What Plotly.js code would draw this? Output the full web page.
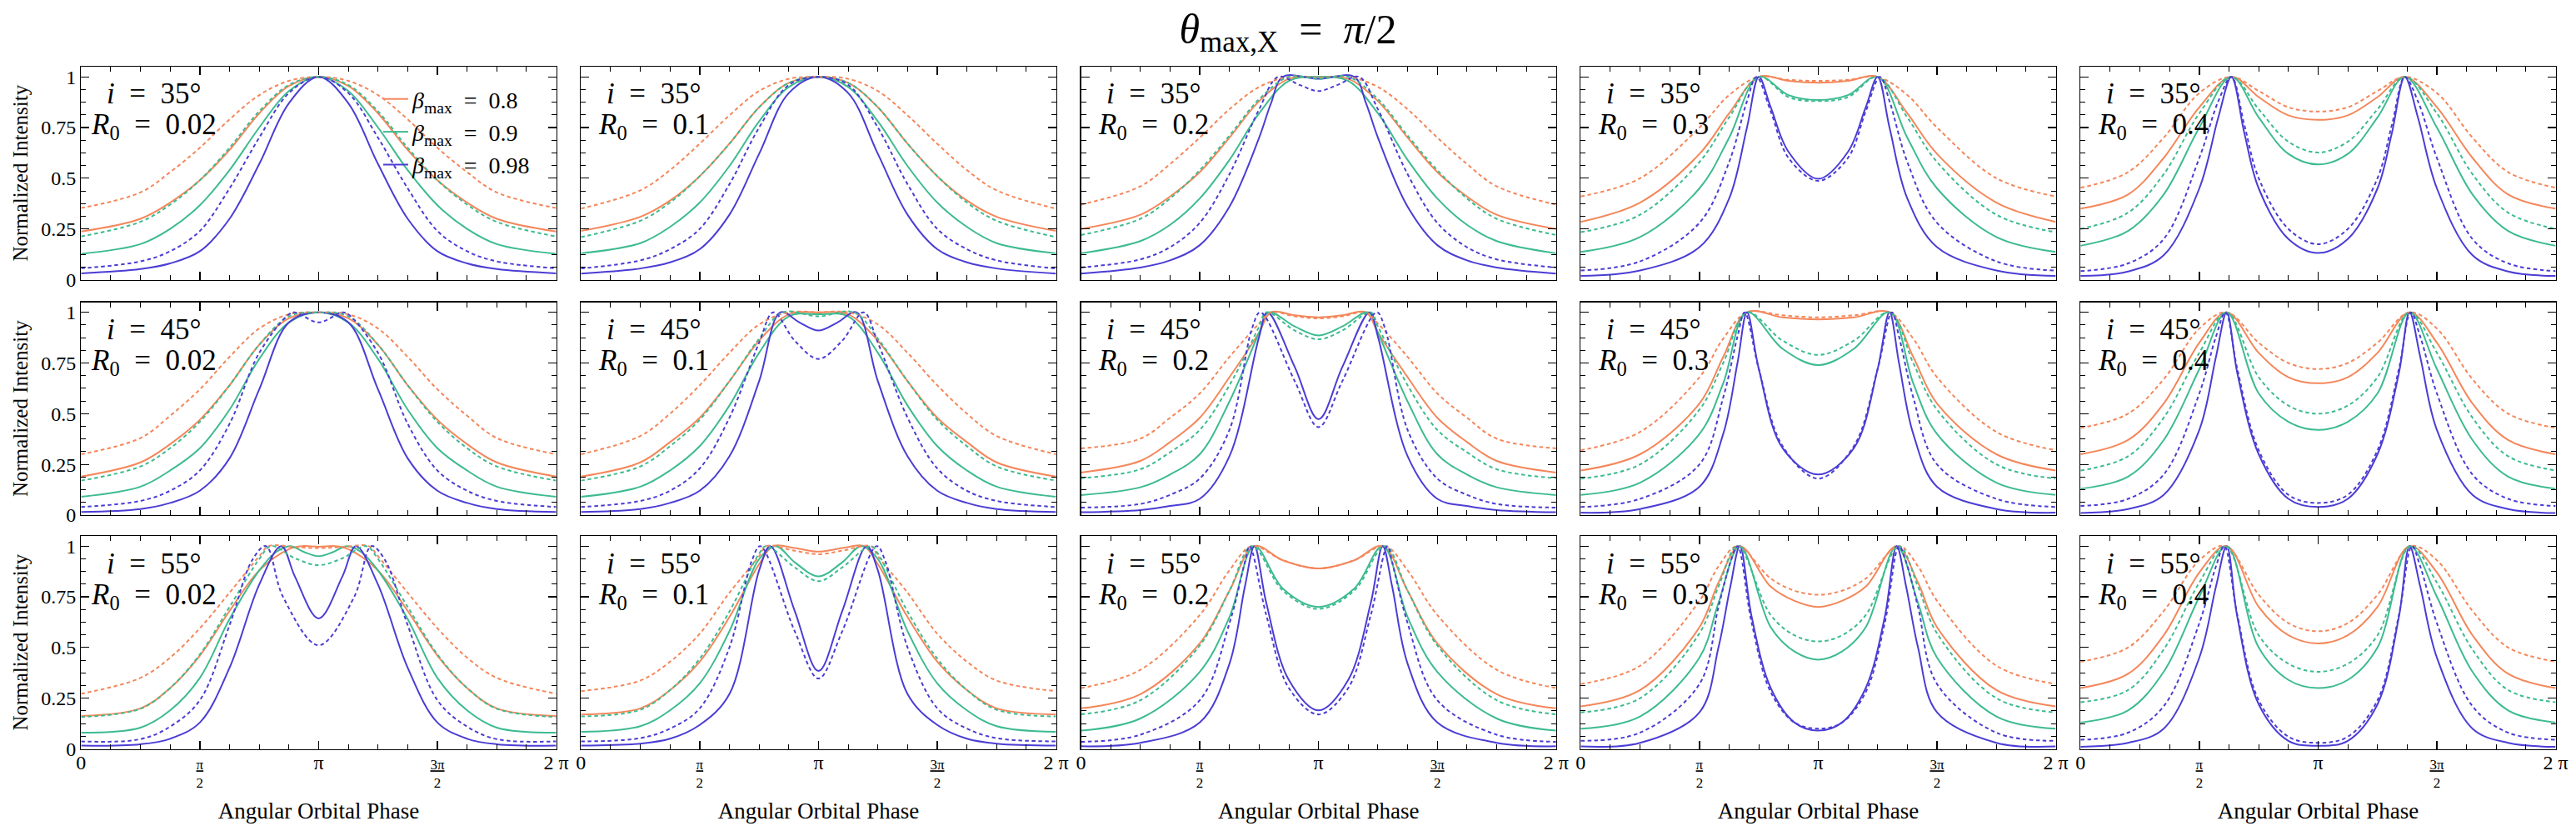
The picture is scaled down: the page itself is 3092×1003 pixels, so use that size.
<!DOCTYPE html>
<html><head><meta charset="utf-8">
<script src="https://cdn.plot.ly/plotly-3.0.1.min.js"></script>
<style>html,body{margin:0;padding:0;background:#fff}</style>
</head><body><div id="chart" style="width:3092px;height:1003px"></div>
<script>
// ---- labels ----
const inclinations = ['35°', '45°', '55°'];
const radii = ['0.02', '0.1', '0.2', '0.3', '0.4'];
const betaLabels = ['0.8', '0.9', '0.98'];
const xTickVals = [0, 0.5, 1, 1.5, 2];
const xTickText = ['0', '<u>π</u><br>2', 'π', '<u>3π</u><br>2', '2 π'];
const yTickVals = [0, 0.25, 0.5, 0.75, 1];
const yTickText = ['0', '0.25', '0.5', '0.75', '1'];

// ---- data: half curves, [phase in units of π, normalized intensity] (curves symmetric about π) ----
// row 1: i = 35°
const r1c1_orangeSolid = [[0,.237],[.25,.30],[.375,.38],[.5,.49],[.625,.64],[.75,.82],[.875,.955],[1,1]];
const r1c1_orangeDot   = [[0,.353],[.25,.43],[.375,.53],[.5,.65],[.625,.79],[.75,.91],[.875,.98],[1,1]];
const r1c1_greenSolid  = [[0,.127],[.25,.175],[.375,.25],[.5,.367],[.625,.54],[.75,.75],[.875,.93],[1,1]];
const r1c1_greenDot    = [[0,.213],[.25,.285],[.375,.37],[.5,.49],[.625,.65],[.75,.83],[.875,.96],[1,1]];
const r1c1_blueSolid   = [[0,.031],[.25,.052],[.375,.08],[.5,.14],[.625,.30],[.75,.57],[.875,.87],[1,1]];
const r1c1_blueDot     = [[0,.056],[.25,.09],[.375,.14],[.5,.24],[.625,.45],[.75,.70],[.875,.92],[1,1]];

const r1c2_orangeSolid = [[0,.24],[.25,.31],[.375,.39],[.5,.51],[.625,.67],[.75,.85],[.875,.97],[1,1]];
const r1c2_orangeDot   = [[0,.35],[.25,.44],[.375,.54],[.5,.67],[.625,.81],[.75,.93],[.875,.99],[1,1]];
const r1c2_greenSolid  = [[0,.13],[.25,.18],[.375,.26],[.5,.38],[.625,.56],[.75,.78],[.875,.95],[1,1]];
const r1c2_greenDot    = [[0,.21],[.25,.29],[.375,.38],[.5,.51],[.625,.67],[.75,.85],[.875,.97],[1,1]];
const r1c2_blueSolid   = [[0,.03],[.25,.055],[.375,.085],[.5,.15],[.625,.32],[.75,.62],[.875,.92],[1,1]];
const r1c2_blueDot     = [[0,.055],[.25,.095],[.375,.15],[.5,.25],[.625,.47],[.75,.75],[.875,.96],[1,1]];

const r1c3_orangeSolid = [[0,.25],[.25,.32],[.375,.41],[.5,.53],[.625,.70],[.75,.88],[.875,.99],[1,1]];
const r1c3_orangeDot   = [[0,.37],[.25,.46],[.375,.57],[.5,.70],[.625,.84],[.75,.95],[.875,1],[1,.995]];
const r1c3_greenSolid  = [[0,.13],[.25,.19],[.375,.27],[.5,.40],[.625,.59],[.75,.82],[.875,.98],[1,1]];
const r1c3_greenDot    = [[0,.22],[.25,.30],[.375,.40],[.5,.54],[.625,.71],[.75,.89],[.875,1],[1,.99]];
const r1c3_blueSolid   = [[0,.03],[.25,.06],[.375,.095],[.5,.17],[.625,.36],[.75,.70],[.8,.87],[.85,1],[1,.99]];
const r1c3_blueDot     = [[0,.06],[.25,.10],[.375,.16],[.5,.28],[.625,.52],[.75,.84],[.83,1],[.92,.96],[1,.93]];

const r1c4_orangeSolid = [[0,.285],[.25,.38],[.5,.62],[.625,.82],[.75,1],[.875,.98],[1,.971]];
const r1c4_orangeDot   = [[0,.41],[.25,.50],[.5,.75],[.625,.91],[.75,1],[.875,.985],[1,.98]];
const r1c4_greenSolid  = [[0,.137],[.25,.21],[.5,.45],[.625,.70],[.75,1],[.875,.91],[1,.886]];
const r1c4_greenDot    = [[0,.234],[.25,.32],[.5,.58],[.625,.80],[.75,1],[.875,.90],[1,.88]];
const r1c4_blueSolid   = [[0,.018],[.25,.045],[.5,.16],[.625,.40],[.7,.75],[.75,1],[.8,.85],[.875,.63],[1,.497]];
const r1c4_blueDot     = [[0,.045],[.25,.09],[.5,.28],[.625,.58],[.7,.88],[.74,1],[.8,.83],[.875,.60],[1,.487]];

const r1c5_orangeSolid = [[0,.35],[.2,.42],[.35,.60],[.5,.85],[.635,1],[.75,.90],[.875,.81],[1,.788]];
const r1c5_orangeDot   = [[0,.453],[.2,.53],[.35,.70],[.5,.92],[.635,1],[.75,.93],[.875,.85],[1,.829]];
const r1c5_greenSolid  = [[0,.167],[.2,.24],[.35,.42],[.5,.75],[.635,1],[.75,.80],[.875,.62],[1,.568]];
const r1c5_greenDot    = [[0,.25],[.2,.33],[.35,.52],[.5,.82],[.635,1],[.75,.84],[.875,.68],[1,.627]];
const r1c5_blueSolid   = [[0,.018],[.2,.04],[.35,.12],[.5,.45],[.58,.80],[.635,1],[.69,.72],[.75,.45],[.875,.20],[1,.131]];
const r1c5_blueDot     = [[0,.042],[.2,.08],[.35,.20],[.5,.60],[.58,.88],[.635,1],[.69,.76],[.75,.50],[.875,.25],[1,.175]];

// row 2: i = 45°
const r2c1_orangeSolid = [[0,.19],[.25,.26],[.375,.35],[.5,.47],[.625,.64],[.75,.84],[.875,.97],[1,1]];
const r2c1_orangeDot   = [[0,.30],[.25,.38],[.375,.49],[.5,.62],[.625,.78],[.75,.92],[.875,.99],[1,1]];
const r2c1_greenSolid  = [[0,.09],[.25,.14],[.375,.22],[.5,.33],[.625,.52],[.75,.77],[.875,.95],[1,1]];
const r2c1_greenDot    = [[0,.17],[.25,.24],[.375,.33],[.5,.46],[.625,.64],[.75,.84],[.875,.98],[1,1]];
const r2c1_blueSolid   = [[0,.015],[.25,.03],[.375,.06],[.5,.12],[.625,.28],[.75,.62],[.875,.95],[1,1]];
const r2c1_blueDot     = [[0,.04],[.25,.07],[.375,.12],[.5,.22],[.625,.45],[.75,.80],[.875,.99],[.9,1],[1,.95]];

const r2c2_orangeSolid = [[0,.19],[.25,.26],[.375,.36],[.5,.48],[.625,.66],[.75,.86],[.875,.99],[1,1]];
const r2c2_orangeDot   = [[0,.30],[.25,.39],[.375,.50],[.5,.64],[.625,.80],[.75,.94],[.875,1],[1,1]];
const r2c2_greenSolid  = [[0,.09],[.25,.14],[.375,.22],[.5,.34],[.625,.54],[.75,.80],[.875,.98],[1,.99]];
const r2c2_greenDot    = [[0,.17],[.25,.24],[.375,.34],[.5,.47],[.625,.66],[.75,.87],[.85,1],[1,.98]];
const r2c2_blueSolid   = [[0,.015],[.25,.03],[.375,.06],[.5,.12],[.625,.29],[.75,.66],[.84,1],[.92,.95],[1,.91]];
const r2c2_blueDot     = [[0,.04],[.25,.07],[.375,.12],[.5,.23],[.625,.48],[.75,.85],[.81,1],[.9,.86],[1,.77]];

const r2c3_orangeSolid = [[0,.21],[.25,.267],[.375,.36],[.5,.48],[.625,.68],[.75,.90],[.8,1],[.9,.985],[1,.975]];
const r2c3_orangeDot   = [[0,.329],[.25,.377],[.375,.48],[.5,.60],[.625,.78],[.75,.945],[.8,1],[.9,.98],[1,.97]];
const r2c3_greenSolid  = [[0,.099],[.25,.137],[.375,.20],[.5,.30],[.625,.56],[.75,.90],[.79,1],[.9,.93],[1,.886]];
const r2c3_greenDot    = [[0,.182],[.25,.226],[.375,.31],[.5,.42],[.625,.64],[.75,.93],[.78,1],[.9,.91],[1,.867]];
const r2c3_blueSolid   = [[0,.014],[.25,.025],[.375,.045],[.5,.08],[.625,.29],[.75,.88],[.785,1],[.9,.73],[1,.473]];
const r2c3_blueDot     = [[0,.037],[.25,.055],[.375,.10],[.5,.18],[.625,.42],[.72,.92],[.755,1],[.9,.66],[1,.434]];

const r2c4_orangeSolid = [[0,.22],[.25,.30],[.5,.55],[.6,.78],[.7,1],[.85,.975],[1,.965]];
const r2c4_orangeDot   = [[0,.32],[.25,.41],[.5,.68],[.6,.87],[.7,1],[.85,.985],[1,.975]];
const r2c4_greenSolid  = [[0,.10],[.25,.16],[.5,.40],[.6,.65],[.7,1],[.85,.82],[1,.74]];
const r2c4_greenDot    = [[0,.18],[.25,.25],[.5,.52],[.6,.75],[.7,1],[.85,.86],[1,.79]];
const r2c4_blueSolid   = [[0,.012],[.25,.03],[.5,.14],[.6,.40],[.66,.75],[.7,1],[.75,.72],[.85,.33],[1,.20]];
const r2c4_blueDot     = [[0,.04],[.25,.08],[.5,.25],[.6,.58],[.66,.88],[.69,1],[.75,.72],[.85,.34],[1,.18]];

const r2c5_orangeSolid = [[0,.30],[.2,.37],[.35,.55],[.5,.85],[.615,1],[.75,.80],[.875,.68],[1,.65]];
const r2c5_orangeDot   = [[0,.43],[.2,.50],[.35,.67],[.5,.92],[.615,1],[.75,.85],[.875,.75],[1,.72]];
const r2c5_greenSolid  = [[0,.13],[.2,.19],[.35,.37],[.5,.72],[.615,1],[.75,.60],[.875,.46],[1,.42]];
const r2c5_greenDot    = [[0,.22],[.2,.29],[.35,.48],[.5,.80],[.615,1],[.75,.68],[.875,.54],[1,.50]];
const r2c5_blueSolid   = [[0,.01],[.2,.03],[.35,.10],[.5,.42],[.57,.78],[.615,1],[.66,.70],[.75,.30],[.875,.08],[1,.04]];
const r2c5_blueDot     = [[0,.045],[.2,.08],[.35,.20],[.5,.60],[.57,.88],[.61,1],[.66,.72],[.75,.32],[.875,.10],[1,.06]];

// row 3: i = 55°
const r3c1_orangeSolid = [[0,.162],[.25,.20],[.375,.30],[.5,.46],[.625,.68],[.75,.88],[.875,.985],[.93,1],[1,.997]];
const r3c1_orangeDot   = [[0,.272],[.25,.35],[.375,.45],[.5,.595],[.625,.77],[.75,.95],[.79,1],[.9,.995],[1,.99]];
const r3c1_greenSolid  = [[0,.08],[.25,.105],[.375,.19],[.5,.35],[.625,.64],[.75,.88],[.82,.97],[.88,1],[.94,.97],[1,.95]];
const r3c1_greenDot    = [[0,.157],[.25,.198],[.375,.30],[.5,.466],[.625,.70],[.75,.936],[.8,1],[.9,.94],[1,.906]];
const r3c1_blueSolid   = [[0,.016],[.25,.023],[.375,.05],[.5,.13],[.625,.40],[.75,.81],[.843,1],[.9,.85],[1,.643]];
const r3c1_blueDot     = [[0,.037],[.25,.048],[.375,.11],[.5,.24],[.625,.61],[.72,.93],[.778,1],[.85,.75],[1,.511]];

const r3c2_orangeSolid = [[0,.17],[.25,.20],[.375,.29],[.5,.43],[.625,.65],[.75,.91],[.81,1],[.9,.99],[1,.973]];
const r3c2_orangeDot   = [[0,.285],[.25,.337],[.375,.43],[.5,.568],[.625,.77],[.75,.95],[.78,1],[.9,.977],[1,.96]];
const r3c2_greenSolid  = [[0,.084],[.25,.112],[.375,.19],[.5,.323],[.625,.58],[.75,.936],[.82,1],[.9,.92],[1,.851]];
const r3c2_greenDot    = [[0,.16],[.25,.193],[.375,.29],[.5,.445],[.625,.677],[.75,.963],[.78,1],[.9,.895],[1,.827]];
const r3c2_blueSolid   = [[0,.016],[.25,.026],[.375,.05],[.5,.118],[.625,.27],[.75,.88],[.797,1],[.9,.68],[1,.384]];
const r3c2_blueDot     = [[0,.037],[.25,.053],[.375,.10],[.5,.20],[.625,.50],[.72,.93],[.755,1],[.9,.58],[1,.347]];

const r3c3_orangeSolid = [[0,.20],[.25,.27],[.5,.52],[.625,.78],[.73,1],[.85,.93],[1,.89]];
const r3c3_orangeDot   = [[0,.30],[.25,.39],[.5,.66],[.625,.88],[.72,1],[.85,.93],[1,.89]];
const r3c3_greenSolid  = [[0,.09],[.25,.15],[.5,.38],[.625,.65],[.73,1],[.85,.79],[1,.70]];
const r3c3_greenDot    = [[0,.17],[.25,.24],[.5,.51],[.625,.78],[.72,1],[.85,.78],[1,.69]];
const r3c3_blueSolid   = [[0,.013],[.25,.03],[.5,.13],[.625,.42],[.69,.80],[.73,1],[.78,.72],[.875,.34],[1,.19]];
const r3c3_blueDot     = [[0,.035],[.25,.07],[.5,.24],[.625,.62],[.69,.92],[.71,1],[.78,.66],[.875,.30],[1,.17]];

const r3c4_orangeSolid = [[0,.21],[.25,.29],[.5,.60],[.58,.82],[.67,1],[.8,.80],[.9,.73],[1,.70]];
const r3c4_orangeDot   = [[0,.32],[.25,.41],[.5,.73],[.58,.90],[.66,1],[.8,.84],[.9,.78],[1,.76]];
const r3c4_greenSolid  = [[0,.10],[.25,.16],[.5,.45],[.58,.72],[.67,1],[.8,.60],[.9,.48],[1,.44]];
const r3c4_greenDot    = [[0,.18],[.25,.25],[.5,.57],[.58,.80],[.66,1],[.8,.66],[.9,.56],[1,.53]];
const r3c4_blueSolid   = [[0,.012],[.25,.03],[.5,.18],[.58,.50],[.63,.80],[.67,1],[.72,.65],[.8,.30],[.9,.13],[1,.09]];
const r3c4_blueDot     = [[0,.04],[.25,.08],[.5,.32],[.58,.70],[.63,.92],[.66,1],[.72,.62],[.8,.28],[.9,.13],[1,.10]];

const r3c5_orangeSolid = [[0,.30],[.2,.37],[.35,.56],[.5,.87],[.615,1],[.75,.70],[.875,.56],[1,.52]];
const r3c5_orangeDot   = [[0,.43],[.2,.50],[.35,.68],[.5,.93],[.61,1],[.75,.76],[.875,.62],[1,.58]];
const r3c5_greenSolid  = [[0,.13],[.2,.19],[.35,.38],[.5,.75],[.615,1],[.75,.50],[.875,.34],[1,.30]];
const r3c5_greenDot    = [[0,.23],[.2,.29],[.35,.49],[.5,.82],[.61,1],[.75,.56],[.875,.42],[1,.38]];
const r3c5_blueSolid   = [[0,.01],[.2,.03],[.35,.10],[.5,.45],[.57,.80],[.615,1],[.66,.65],[.75,.22],[.875,.04],[1,.015]];
const r3c5_blueDot     = [[0,.045],[.2,.08],[.35,.21],[.5,.62],[.57,.90],[.605,1],[.66,.66],[.75,.24],[.875,.06],[1,.03]];

// ---- assemble ----
const panelData = [
  [r1c1_orangeSolid,r1c1_greenSolid,r1c1_blueSolid,r1c1_orangeDot,r1c1_greenDot,r1c1_blueDot],
  [r1c2_orangeSolid,r1c2_greenSolid,r1c2_blueSolid,r1c2_orangeDot,r1c2_greenDot,r1c2_blueDot],
  [r1c3_orangeSolid,r1c3_greenSolid,r1c3_blueSolid,r1c3_orangeDot,r1c3_greenDot,r1c3_blueDot],
  [r1c4_orangeSolid,r1c4_greenSolid,r1c4_blueSolid,r1c4_orangeDot,r1c4_greenDot,r1c4_blueDot],
  [r1c5_orangeSolid,r1c5_greenSolid,r1c5_blueSolid,r1c5_orangeDot,r1c5_greenDot,r1c5_blueDot],
  [r2c1_orangeSolid,r2c1_greenSolid,r2c1_blueSolid,r2c1_orangeDot,r2c1_greenDot,r2c1_blueDot],
  [r2c2_orangeSolid,r2c2_greenSolid,r2c2_blueSolid,r2c2_orangeDot,r2c2_greenDot,r2c2_blueDot],
  [r2c3_orangeSolid,r2c3_greenSolid,r2c3_blueSolid,r2c3_orangeDot,r2c3_greenDot,r2c3_blueDot],
  [r2c4_orangeSolid,r2c4_greenSolid,r2c4_blueSolid,r2c4_orangeDot,r2c4_greenDot,r2c4_blueDot],
  [r2c5_orangeSolid,r2c5_greenSolid,r2c5_blueSolid,r2c5_orangeDot,r2c5_greenDot,r2c5_blueDot],
  [r3c1_orangeSolid,r3c1_greenSolid,r3c1_blueSolid,r3c1_orangeDot,r3c1_greenDot,r3c1_blueDot],
  [r3c2_orangeSolid,r3c2_greenSolid,r3c2_blueSolid,r3c2_orangeDot,r3c2_greenDot,r3c2_blueDot],
  [r3c3_orangeSolid,r3c3_greenSolid,r3c3_blueSolid,r3c3_orangeDot,r3c3_greenDot,r3c3_blueDot],
  [r3c4_orangeSolid,r3c4_greenSolid,r3c4_blueSolid,r3c4_orangeDot,r3c4_greenDot,r3c4_blueDot],
  [r3c5_orangeSolid,r3c5_greenSolid,r3c5_blueSolid,r3c5_orangeDot,r3c5_greenDot,r3c5_blueDot]
];

const W = 3092, H = 1003;
const FONT = 'Liberation Serif, Times New Roman, serif';
const colors = ['#F4875B', '#3DBB8F', '#4B3DD4'];
const colLeft = [97.3, 697.3, 1297.5, 1897.3, 2497.3];
const panelW = 570.3;
const rowTop = [80, 362.5, 643];
const panelH = 255.5;
const EN = '\u2002';

function fullCurve(half) {
  const x = half.map(p => p[0]), y = half.map(p => p[1]);
  for (let k = half.length - 2; k >= 0; k--) { x.push(2 - half[k][0]); y.push(half[k][1]); }
  return {x, y};
}
function bigTick(t) { return t.indexOf('<br>') >= 0 ? t : '<span style="font-size:24px">' + t + '</span>'; }

const traces = [];
const layout = {
  width: W, height: H, autosize: false,
  margin: {l: 0, r: 0, t: 0, b: 0},
  paper_bgcolor: '#fff', plot_bgcolor: '#fff',
  font: {family: FONT, color: '#000', size: 24},
  showlegend: true,
  legend: {x: 455 / W, y: 1 - 94 / H, xanchor: 'left', yanchor: 'top', bgcolor: 'rgba(0,0,0,0)',
           font: {family: FONT, size: 28, color: '#000'}, tracegroupgap: 0, itemwidth: 30},
  title: {text: '<i>θ</i><sub>max,X</sub>' + EN + '=' + EN + '<i>π</i>/2', font: {family: FONT, size: 50, color: '#000'},
          x: 0.5, xanchor: 'center', xref: 'paper', y: 1 - 34 / H, yanchor: 'middle', yref: 'paper'},
  annotations: []
};

for (let r = 0; r < 3; r++) {
  for (let c = 0; c < 5; c++) {
    const p = r * 5 + c, n = p + 1;
    const xa = 'xaxis' + (n > 1 ? n : ''), ya = 'yaxis' + (n > 1 ? n : '');
    const xr = 'x' + (n > 1 ? n : ''), yr = 'y' + (n > 1 ? n : '');
    const curves = panelData[p];
    curves.forEach((half, k) => {
      const f = fullCurve(half);
      const ci = k % 3, dotted = k >= 3;
      traces.push({
        x: f.x, y: f.y, xaxis: xr, yaxis: yr, type: 'scatter', mode: 'lines',
        line: {color: colors[ci], width: 2, dash: dotted ? '4.5px,3.5px' : 'solid', shape: 'spline', smoothing: 1},
        name: '<i>β</i><sub>max</sub>' + EN + '=' + EN + betaLabels[ci],
        showlegend: (p === 0 && !dotted), hoverinfo: 'skip'
      });
    });
    const common = {showgrid: false, zeroline: false, showline: true, linecolor: '#000', linewidth: 1.3,
      mirror: 'allticks', ticks: 'inside', ticklen: 10, tickwidth: 1.3, tickcolor: '#000', fixedrange: true};
    layout[xa] = Object.assign({}, common, {
      domain: [colLeft[c] / W, (colLeft[c] + panelW) / W], range: [0, 2], anchor: yr,
      tickmode: 'array', tickvals: xTickVals, ticktext: xTickText.map(bigTick), showticklabels: r === 2,
      tickfont: {family: FONT, size: 17, color: '#000'}, ticklabelstandoff: 3,
      minor: {ticks: 'inside', ticklen: 6, tickwidth: 1, tickcolor: '#000', tickmode: 'linear', tick0: 0, dtick: 0.125}
    });
    if (r === 2) layout[xa].title = {text: 'Angular Orbital Phase', font: {family: FONT, size: 27, color: '#000'}, standoff: 14};
    layout[ya] = Object.assign({}, common, {
      domain: [1 - (rowTop[r] + panelH) / H, 1 - rowTop[r] / H], range: [0, 1.05], anchor: xr,
      tickmode: 'array', tickvals: yTickVals, ticktext: yTickText, showticklabels: c === 0,
      tickfont: {family: FONT, size: 24, color: '#000'},
      minor: {ticks: 'inside', ticklen: 6, tickwidth: 1, tickcolor: '#000', tickmode: 'linear', tick0: 0, dtick: 0.0625}
    });
    if (c === 0) layout[ya].title = {text: 'Normalized Intensity', font: {family: FONT, size: 25, color: '#000'}, standoff: 8};
    const cx = (colLeft[c] + 87) / W;
    layout.annotations.push({xref: 'paper', yref: 'paper', x: cx, y: 1 - (rowTop[r] + 33) / H,
      xanchor: 'center', yanchor: 'middle', showarrow: false,
      text: '<i>i</i>' + EN + '=' + EN + inclinations[r], font: {family: FONT, size: 35, color: '#000'}});
    layout.annotations.push({xref: 'paper', yref: 'paper', x: cx, y: 1 - (rowTop[r] + 72) / H,
      xanchor: 'center', yanchor: 'middle', showarrow: false,
      text: '<i>R</i><sub>0</sub>' + EN + '=' + EN + radii[c], font: {family: FONT, size: 35, color: '#000'}});
  }
}

Plotly.newPlot('chart', traces, layout, {displayModeBar: false, staticPlot: true});
</script>
</body></html>
